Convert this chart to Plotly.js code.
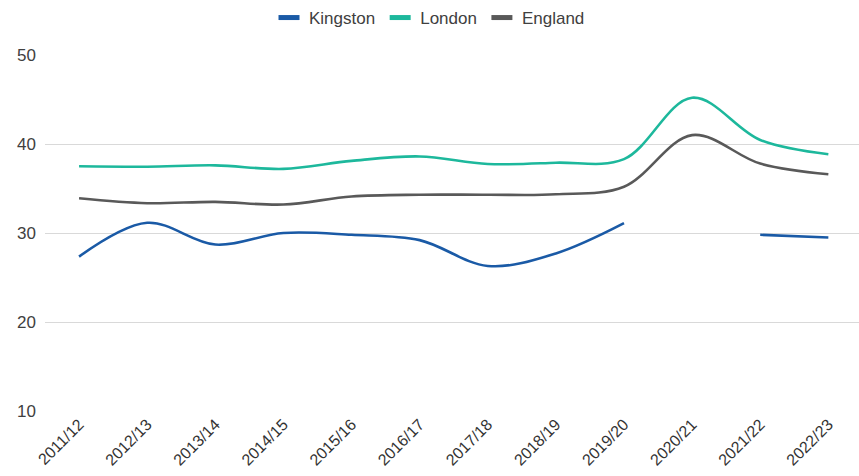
<!DOCTYPE html>
<html>
<head>
<meta charset="utf-8">
<script src="https://cdn.plot.ly/plotly-3.0.1.min.js"></script>
<style>
  html, body { margin: 0; padding: 0; background: #ffffff; }
  #chart { width: 859px; height: 476px; }
</style>
</head>
<body>
<div id="chart"></div>
<script>
// Financial years on the category axis
const years = ["2011/12", "2012/13", "2013/14", "2014/15", "2015/16", "2016/17",
               "2017/18", "2018/19", "2019/20", "2020/21", "2021/22", "2022/23"];

// Series values (no Kingston figure for 2020/21)
const kingston = [27.35, 31.15, 28.7, 30.0, 29.8, 29.2, 26.3, 27.7, 31.1, null, 29.8, 29.5];
const london   = [37.5, 37.45, 37.6, 37.2, 38.1, 38.6, 37.75, 37.9, 38.3, 45.2, 40.45, 38.85];
const england  = [33.9, 33.35, 33.5, 33.2, 34.1, 34.3, 34.3, 34.35, 35.2, 41.0, 37.8, 36.6];

const yTicks = [10, 20, 30, 40, 50];

const seriesNames  = ["Kingston", "London", "England"];
const seriesValues = [kingston, london, england];
const seriesColors = ["#1a5aa6", "#1db89c", "#595959"];

const traces = [];
// Plotted lines
seriesNames.forEach((name, i) => {
  traces.push({
    type: "scatter",
    mode: "lines",
    name: name,
    x: years,
    y: seriesValues[i],
    connectgaps: false,
    showlegend: false,
    hoverinfo: "x+y+name",
    line: { color: seriesColors[i], width: 2.6, shape: "spline", smoothing: 1 }
  });
});
// Legend entries: short thick dash swatches
seriesNames.forEach((name, i) => {
  traces.push({
    type: "scatter",
    mode: "markers",
    name: name,
    x: [null],
    y: [null],
    showlegend: true,
    hoverinfo: "skip",
    marker: { symbol: "line-ew", size: 15, color: seriesColors[i],
              line: { color: seriesColors[i], width: 5 } }
  });
});

const layout = {
  width: 859,
  height: 476,
  margin: { l: 45, r: 0, t: 55, b: 65 },
  paper_bgcolor: "#ffffff",
  plot_bgcolor: "#ffffff",
  font: { family: "Liberation Sans, Arial, sans-serif", color: "#404040", size: 17 },
  showlegend: true,
  legend: {
    orientation: "h",
    xref: "container",
    yref: "container",
    x: 0.5,
    xanchor: "center",
    y: 1.0,
    yanchor: "top",
    itemwidth: 30,
    font: { size: 17, color: "#404040" },
    bgcolor: "rgba(0,0,0,0)"
  },
  xaxis: {
    type: "category",
    range: [-0.5, 11.45],
    tickangle: -45,
    showgrid: false,
    zeroline: false,
    showline: false,
    ticks: "",
    tickfont: { size: 16, color: "#333333" },
    fixedrange: true
  },
  yaxis: {
    range: [10, 50],
    tickmode: "array",
    tickvals: yTicks,
    ticktext: yTicks.map(String),
    showgrid: true,
    gridcolor: "#d9d9d9",
    gridwidth: 1,
    zeroline: false,
    showline: false,
    ticks: "",
    ticklabelstandoff: 8,
    tickfont: { size: 17, color: "#404040" },
    fixedrange: true
  }
};

Plotly.newPlot("chart", traces, layout, { displayModeBar: false, staticPlot: true });
</script>
</body>
</html>
